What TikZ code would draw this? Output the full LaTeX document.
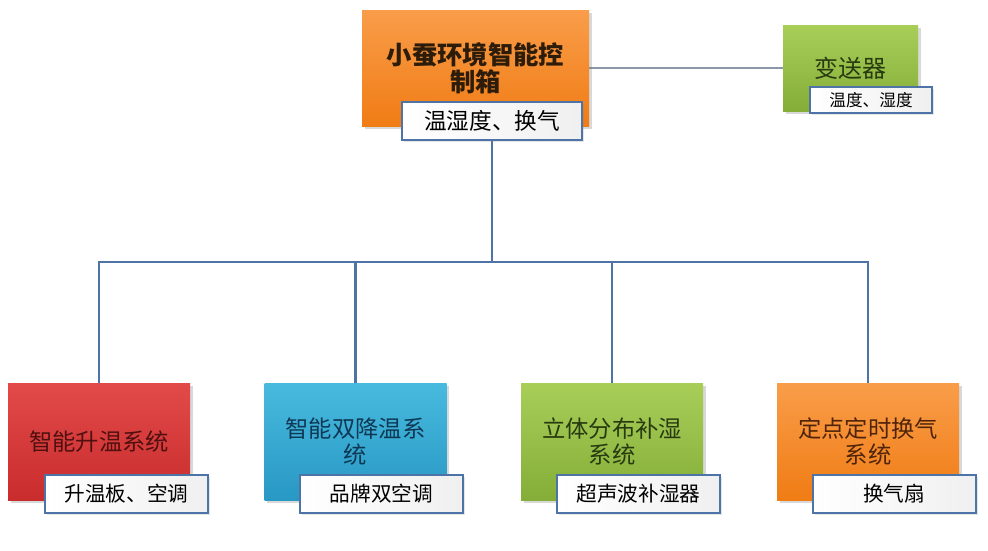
\documentclass[tikz,border=0pt]{standalone}
\usepackage{fontspec}
\setmainfont{Noto Sans CJK SC}
\usetikzlibrary{shadows,backgrounds}
\definecolor{linkc}{HTML}{4E73A6}
\definecolor{grayl}{HTML}{8A98A8}
\definecolor{orT}{HTML}{F99D4A}
\definecolor{orB}{HTML}{F07C14}
\definecolor{rdT}{HTML}{E24A4A}
\definecolor{rdB}{HTML}{C92C2C}
\definecolor{blT}{HTML}{48BADE}
\definecolor{blB}{HTML}{2898C4}
\definecolor{gnT}{HTML}{A8CE58}
\definecolor{gnB}{HTML}{84AE38}
\definecolor{txOr}{HTML}{2D1C0A}
\definecolor{txOr2}{HTML}{50240A}
\definecolor{txRd}{HTML}{501010}
\definecolor{txBl}{HTML}{0E3854}
\definecolor{txGn}{HTML}{283A10}
\tikzset{
  mainbox/.style={rectangle, draw=none, align=center, inner sep=2pt,
    drop shadow={opacity=0.3, shadow xshift=2pt, shadow yshift=-2pt}},
  orangebox/.style={mainbox, top color=orT, bottom color=orB},
  redbox/.style={mainbox, top color=rdT, bottom color=rdB},
  bluebox/.style={mainbox, top color=blT, bottom color=blB},
  greenbox/.style={mainbox, top color=gnT, bottom color=gnB},
  bigtxt/.style={font=\fontsize{17.5}{19}\selectfont},
  tagbox/.style={rectangle, draw=linkc, line width=1.5pt, left color=white, right color=black!6, inner sep=1pt, align=center,
    drop shadow={opacity=0.2, shadow xshift=1.5pt, shadow yshift=-1.5pt}},
  tagtxt/.style={font=\fontsize{15.5}{17}\selectfont},
  link/.style={draw=linkc, line width=2.2pt},
  thin link/.style={draw=grayl, line width=0.8pt},
}
\begin{document}
\begin{tikzpicture}[x=0.75pt,y=-0.75pt]
\useasboundingbox (0,0) rectangle (988,550);
% top
\node[orangebox, minimum width=170.25pt, minimum height=87pt, font=\fontsize{19}{20.5}\selectfont\bfseries, text=txOr] (top) at (475.5,68) {小蚕环境智能控\\制箱};
\node[tagbox, minimum width=135pt, minimum height=28.5pt, font=\fontsize{17}{19}\selectfont] (toptag) at (492,121) {温湿度、换气};
% transmitter
\node[greenbox, minimum width=101.25pt, minimum height=64.5pt, font=\fontsize{18}{20}\selectfont, text=txGn] (tr) at (850.5,68) {变送器};
\node[tagbox, minimum width=91.5pt, minimum height=19.5pt, line width=1.3pt, font=\fontsize{12.5}{14}\selectfont] (trtag) at (871,100) {温度、湿度};
% bottom boxes
\node[redbox, minimum width=136.5pt, minimum height=87.75pt, bigtxt, text=txRd] (b1) at (99,441.5) {智能升温系统};
\node[bluebox, minimum width=136.5pt, minimum height=87.75pt, bigtxt, text=txBl] (b2) at (355.5,441.5) {智能双降温系\\统};
\node[greenbox, minimum width=136.5pt, minimum height=87.75pt, bigtxt, text=txGn] (b3) at (612,441.5) {立体分布补湿\\系统};
\node[orangebox, minimum width=136.5pt, minimum height=87.75pt, bigtxt, text=txOr2] (b4) at (868,441.5) {定点定时换气\\系统};
\node[tagbox, minimum width=122.25pt, minimum height=28.5pt, tagtxt] (t1) at (126.5,494) {升温板、空调};
\node[tagbox, minimum width=122.25pt, minimum height=28.5pt, tagtxt] (t2) at (381.5,494) {品牌双空调};
\node[tagbox, minimum width=122.25pt, minimum height=28.5pt, tagtxt] (t3) at (638.5,494) {超声波补湿器};
\node[tagbox, minimum width=122.25pt, minimum height=28.5pt, tagtxt] (t4) at (894,494) {换气扇};
\coordinate (j) at (492,262);
\begin{scope}[on background layer]
\fill[white] (0,0) rectangle (988,550);
\draw[link] (toptag.south) -- (j);
\draw[link] (j) -| (b1.north);
\draw[link] (j) -| (b2.north);
\draw[link] (j) -| (b3.north);
\draw[link] (j) -| (b4.north);
\draw[thin link] (top.east) -- (top.east -| tr.west);
\end{scope}
\end{tikzpicture}
\end{document}
